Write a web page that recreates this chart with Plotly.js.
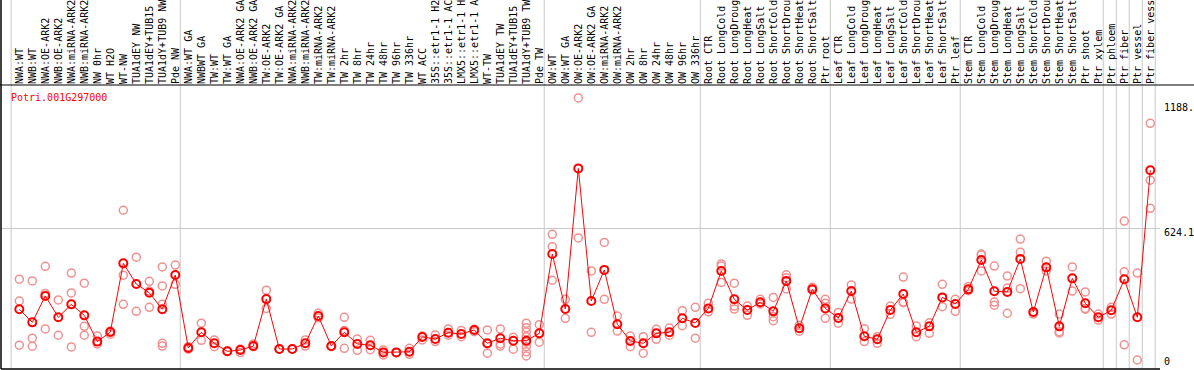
<!DOCTYPE html>
<html>
<head>
<meta charset="utf-8">
<script src="https://cdn.plot.ly/plotly-3.0.1.min.js"></script>
<style>
html,body{margin:0;padding:0;background:#fff;}
#chart{width:1194px;height:370px;}
</style>
</head>
<body>
<div id="chart"></div>
<script>
// ---- data ----
const geneId = "Potri.001G297000";

const categories = [
  "NWA:WT","NWB:WT","NWA:OE-ARK2","NWB:OE-ARK2","NWA:miRNA-ARK2","NWB:miRNA-ARK2","NW 0hr","WT H2O","WT-NW","TUA1dEY NW","TUA1dEY+TUB15","TUA1dY+TUB9 NW","Pde NW",
  "NWA:WT GA","NWBWT GA","TW:WT","TW:WT GA","NWA:OE-ARK2 GA","NWB:OE-ARK2 GA","TW:OE-ARK2","TW:OE-ARK2 GA","NWA:miRNA-ARK2","NWB:miRNA-ARK2","TW:miRNA-ARK2","TW:miRNA-ARK2",
  "TW 2hr","TW 8hr","TW 24hr","TW 48hr","TW 96hr","TW 336hr","WT ACC","35S::etr1-1 H2","35S::etr1-1 AC","LMX5::etr1-1 H","LMX5::etr1-1 A","WT-TW","TUA1dEY TW","TUA1dEY+TUB15","TUA1dY+TUB9 TW","Pde TW",
  "OW:WT","OW:WT GA","OW:OE-ARK2","OW:OE-ARK2 GA","OW:miRNA-ARK2","OW:miRNA-ARK2","OW 2hr","OW 8hr","OW 24hr","OW 48hr","OW 96hr","OW 336hr",
  "Root CTR","Root LongCold","Root LongDroug","Root LongHeat","Root LongSalt","Root ShortCold","Root ShortDrou","Root ShortHeat","Root ShortSalt","Ptr root",
  "Leaf CTR","Leaf LongCold","Leaf LongDroug","Leaf LongHeat","Leaf LongSalt","Leaf ShortCold","Leaf ShortDrou","Leaf ShortHeat","Leaf ShortSalt","Ptr leaf",
  "Stem CTR","Stem LongCold","Stem LongDroug","Stem LongHeat","Stem LongSalt","Stem ShortCold","Stem ShortDrou","Stem ShortHeat","Stem ShortSalt","Ptr shoot","Ptr xylem",
  "Ptr phloem","Ptr fiber","Ptr vessel","Ptr fiber vess"
];

// number of categories in each sample group (groups are separated by grey lines)
const groupSizes = [13, 28, 12, 10, 10, 11, 1, 1, 1, 1];

// mean expression per category
const meanValues = [
  240,178,303,202,263,211,87,132,457,359,318,240,402,
  57,131,79,41,47,66,288,52,52,79,208,66,131,76,70,36,36,39,109,99,129,123,142,79,103,91,91,126,
  501,241,906,279,426,169,90,79,126,131,197,175,
  244,421,287,236,273,230,374,150,334,244,
  199,326,112,98,236,312,131,159,296,265,
  334,473,325,322,478,227,438,159,386,268,202,
  235,382,202,897
];

// individual replicate values per category
const replicateValues = [
  [382,279,70],[374,103,65],[443,315,147],[284,117],[411,317,62],[363,159,117],[113,76],[122,137],[708,401,263],[486,230],[372,326,249],[440,350,263,79,66],[449,358],
  [63,51],[174,93],[95,63],[41,41],[52,35],[76,63],[330,244],[52,52],[52,52],[95,66],[221,199],[63,66],[202,139,55],[99,46],[93,49],[47,24],[36,36],[55,27],[113,95],[118,87],[147,117],[139,110],[145,134],[142,76,32],[147,76,66],[107,51],[174,153,132,110,84,63,39,19],[167,84],
  [594,536,377],[287,197],[1239,577],[421,131],[556,287],[208,137],[113,63],[110,32],[145,98],[151,117],[233,162],[249,103],
  [268,228],[454,444,367],[363,255,241],[255,211],[287,265],[296,205,186],[403,389,336],[164,136],[344,331],[287,268,197],
  [225,174],[355,288],[148,87],[110,79],[255,216],[392,271,274],[161,110],[176,126],[358,296,252],[287,230],
  [347,328],[496,421,501],[444,274,259],[397,340,221],[572,509,337],[227,217],[467,421],[217,128,134],[440,326],[322,240,243],[217,189],
  [249,217],[657,417,72],[411,0],[1119,850,717]
];

// right-hand axis labels
const axisLabels = ["1188.", "624.1", "0"];
const gridValue = 624.1;

// ---- build ----
const xs = categories.map((_, i) => i);
const repX = [], repY = [];
replicateValues.forEach((arr, i) => arr.forEach(v => { repX.push(i); repY.push(v); }));

const mono = "DejaVu Sans Mono, monospace";
const W = 1194, H = 370;
const mL = 1, mR = 34, mT = 85, mB = 1;
const plotH = H - mT - mB;
const pxToPaperY = p => (H - mB - p) / plotH;

// separators
const seps = [];
let start = 0;
seps.push(start - 0.63);
groupSizes.forEach(s => { start += s; seps.push(start - 0.62); });

const shapes = [];
seps.forEach(s => shapes.push({type:'line', xref:'x', yref:'paper', x0:s, x1:s, y0:0, y1:pxToPaperY(0),
  line:{color:'#c8c8c8', width:1}, layer:'below'}));
// frame lines
shapes.push({type:'line', xref:'paper', yref:'paper', x0:-0.002, x1:(W - mL)/(W - mL - mR), y0:1, y1:1, line:{color:'#000', width:1.2}});
shapes.push({type:'line', xref:'paper', yref:'paper', x0:0, x1:0, y0:0, y1:pxToPaperY(0), line:{color:'#000', width:1.5}});
shapes.push({type:'line', xref:'paper', yref:'paper', x0:0, x1:1, y0:0, y1:0, line:{color:'#000', width:1.5}});

const annotations = [
  {xref:'paper', yref:'paper', x:8/(W-mL-mR), y:pxToPaperY(97), xanchor:'left', yanchor:'middle', showarrow:false,
   text:geneId, font:{family:mono, size:10, color:'#ff0000'}},
  {xref:'paper', yref:'paper', x:1, xshift:2, y:pxToPaperY(107), xanchor:'left', yanchor:'middle', showarrow:false,
   text:axisLabels[0], font:{family:mono, size:10, color:'#000'}},
  {xref:'paper', yref:'paper', x:1, xshift:2, y:pxToPaperY(232.5), xanchor:'left', yanchor:'middle', showarrow:false,
   text:axisLabels[1], font:{family:mono, size:10, color:'#000'}},
  {xref:'paper', yref:'paper', x:1, xshift:2, y:pxToPaperY(361.5), xanchor:'left', yanchor:'middle', showarrow:false,
   text:axisLabels[2], font:{family:mono, size:10, color:'#000'}}
];

const pxPerUnit = 132 / 624.1; // pixels per value unit
const yMin = -(369 - 360) / pxPerUnit;
const yMax = (360 - 85) / pxPerUnit;
const xMin = (1 - 19.3) / 13;
const xMax = xMin + (W - mL - mR) / 13;

const traces = [
  {x:repX, y:repY, type:'scatter', mode:'markers', hoverinfo:'skip',
   marker:{symbol:'circle-open', size:8, color:'#f09090', line:{width:1.5}}},
  {x:xs, y:meanValues, type:'scatter', mode:'lines+markers',
   line:{color:'#ff0000', width:1},
   marker:{symbol:'circle-open', size:8, color:'#ff0000', line:{width:2}}}
];

const layout = {
  width:W, height:H,
  margin:{l:mL, r:mR, t:mT, b:mB, pad:0},
  paper_bgcolor:'#ffffff', plot_bgcolor:'#ffffff',
  showlegend:false,
  xaxis:{range:[xMin, xMax], side:'top', tickmode:'array', tickvals:xs,
         ticktext:categories.map(c => c.slice(0,14)), tickangle:-90, ticks:'',
         tickfont:{family:mono, size:10, color:'#000'}, showgrid:false, zeroline:false,
         showline:false, automargin:false},
  yaxis:{range:[yMin, yMax], tickmode:'array', tickvals:[gridValue], showticklabels:false,
         showgrid:true, gridcolor:'#c8c8c8', gridwidth:1, zeroline:false, showline:false, automargin:false},
  shapes:shapes,
  annotations:annotations
};

Plotly.newPlot('chart', traces, layout, {displayModeBar:false, staticPlot:true});
</script>
</body>
</html>
